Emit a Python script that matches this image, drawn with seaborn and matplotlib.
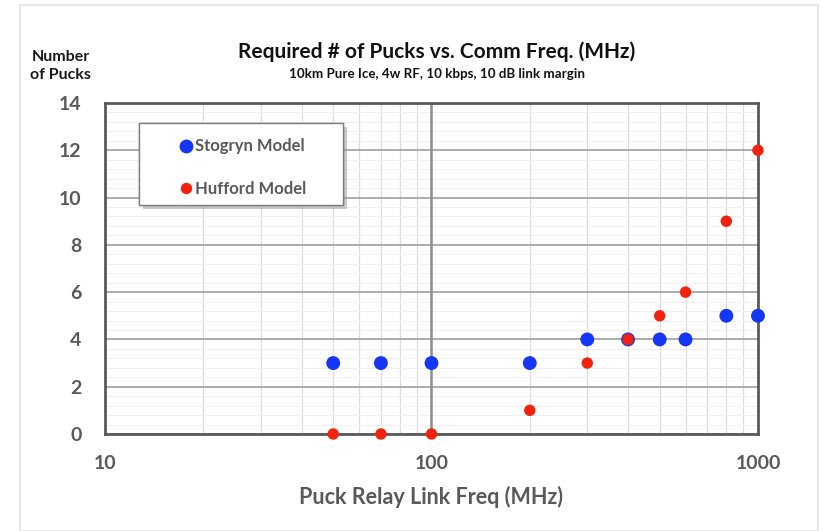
import matplotlib
matplotlib.use("Agg")
import matplotlib.pyplot as plt
import matplotlib.patches as mpatches
import matplotlib.patheffects as pe
from matplotlib.lines import Line2D
from matplotlib.ticker import FixedLocator, NullFormatter, MultipleLocator
import seaborn as sns
import pandas as pd

# Link frequencies (MHz) and required puck counts per propagation model
freq_mhz = [50, 70, 100, 200, 300, 400, 500, 600, 800, 1000]
stogryn_pucks = [3, 3, 3, 3, 4, 4, 4, 4, 5, 5]
hufford_pucks = [0, 0, 0, 1, 3, 4, 5, 6, 9, 12]
model_names = ["Stogryn Model", "Hufford Model"]
x_tick_labels = ["10", "100", "1000"]
y_ticks = [0, 2, 4, 6, 8, 10, 12, 14]

df = pd.concat([
    pd.DataFrame({"freq": freq_mhz, "pucks": stogryn_pucks, "model": model_names[0]}),
    pd.DataFrame({"freq": freq_mhz, "pucks": hufford_pucks, "model": model_names[1]}),
], ignore_index=True)

sns.set_theme(style="white")
plt.rcParams["font.family"] = ["Lato", "DejaVu Sans"]

BLUE = "#1636f5"
RED = "#f2220c"
TICK_GRAY = "#595959"

fig = plt.figure(figsize=(8.23, 5.31), dpi=100)
fig.patch.set_facecolor("white")
ax = fig.add_axes([0.1276, 0.1827, 0.7934, 0.6233])

# faint outer frame around the whole chart
fig.add_artist(mpatches.Rectangle((0.024, 0.0), 0.97, 0.99, transform=fig.transFigure,
                                  fill=False, edgecolor="#e4e4e4", linewidth=1.2))

ax.set_xscale("log")
ax.set_xlim(10, 1000)
ax.set_ylim(0, 14)

# gridlines: minor ones light, majors darker
ax.xaxis.set_minor_locator(FixedLocator([m * d for d in (10, 100) for m in range(2, 10)]))
ax.yaxis.set_minor_locator(MultipleLocator(0.4))
ax.grid(which="minor", axis="x", color="#dcdcdc", linewidth=0.9, zorder=0.5)
ax.grid(which="minor", axis="y", color="#efefef", linewidth=0.7, zorder=0.5)
ax.grid(which="major", axis="y", color="#a6a6a6", linewidth=1.3, zorder=0.6)
ax.set_axisbelow(True)
ax.axvline(100, color="#8c8c8c", linewidth=1.8, zorder=1)

sizes = {model_names[0]: 100, model_names[1]: 68}
for name, color in zip(model_names, [BLUE, RED]):
    sub = df[df["model"] == name]
    sns.scatterplot(data=sub, x="freq", y="pucks", color=color, s=sizes[name],
                    edgecolor="none", ax=ax, zorder=3, clip_on=False, legend=False)

ax.set_xticks([10, 100, 1000])
ax.set_xticklabels(x_tick_labels)
ax.xaxis.set_minor_formatter(NullFormatter())
ax.set_yticks(y_ticks)
ax.set_yticklabels([str(v) for v in y_ticks])
ax.tick_params(axis="both", which="both", length=0, labelsize=14, labelcolor=TICK_GRAY)
ax.tick_params(axis="x", pad=15)
ax.tick_params(axis="y", pad=17)
for lab in ax.get_xticklabels() + ax.get_yticklabels():
    lab.set_fontweight("bold")

for sp in ax.spines.values():
    sp.set_visible(True)
    sp.set_color("#595959")
    sp.set_linewidth(2.0)
    sp.set_zorder(2.5)

ax.set_xlabel("Puck Relay Link Freq (MHz)", fontsize=15.5, fontweight="bold",
              color=TICK_GRAY, labelpad=10)
ax.set_ylabel("")

fig.text(0.074, 0.876, "Number\nof Pucks", ha="center", va="center", fontsize=11.5,
         fontweight="bold", color="#1a1a1a", linespacing=1.4)
fig.text(0.531, 0.903, "Required # of Pucks vs. Comm Freq. (MHz)", ha="center", va="center",
         fontsize=15, fontweight="bold", color="#111111")
fig.text(0.531, 0.860, "10km Pure Ice, 4w RF, 10 kbps, 10 dB link margin", ha="center",
         va="center", fontsize=9.6, fontweight="bold", color="#111111")

# legend box with drop shadow
frame = mpatches.Rectangle((0.052, 0.692), 0.312, 0.248, transform=ax.transAxes,
                           facecolor="white", edgecolor="#7f7f7f", linewidth=1.0, zorder=4,
                           path_effects=[pe.withSimplePatchShadow(offset=(3, -3),
                                                                  shadow_rgbFace="#999999",
                                                                  alpha=0.5), pe.Normal()])
ax.add_patch(frame)

handles = [
    Line2D([], [], marker="o", linestyle="none", markerfacecolor=BLUE, markeredgecolor="none",
           markersize=10, label=model_names[0]),
    Line2D([], [], marker="o", linestyle="none", markerfacecolor=RED, markeredgecolor="none",
           markersize=8.2, label=model_names[1]),
]
leg = ax.legend(handles=handles, loc="upper left", bbox_to_anchor=(0.11, 0.893),
                frameon=False, fontsize=12, borderpad=0, labelspacing=1.6,
                handletextpad=0.0, handlelength=1.1, borderaxespad=0)
for t in leg.get_texts():
    t.set_fontweight("bold")
    t.set_color(TICK_GRAY)
leg.set_zorder(5)

fig.savefig("out.png", dpi=100, facecolor="white")
